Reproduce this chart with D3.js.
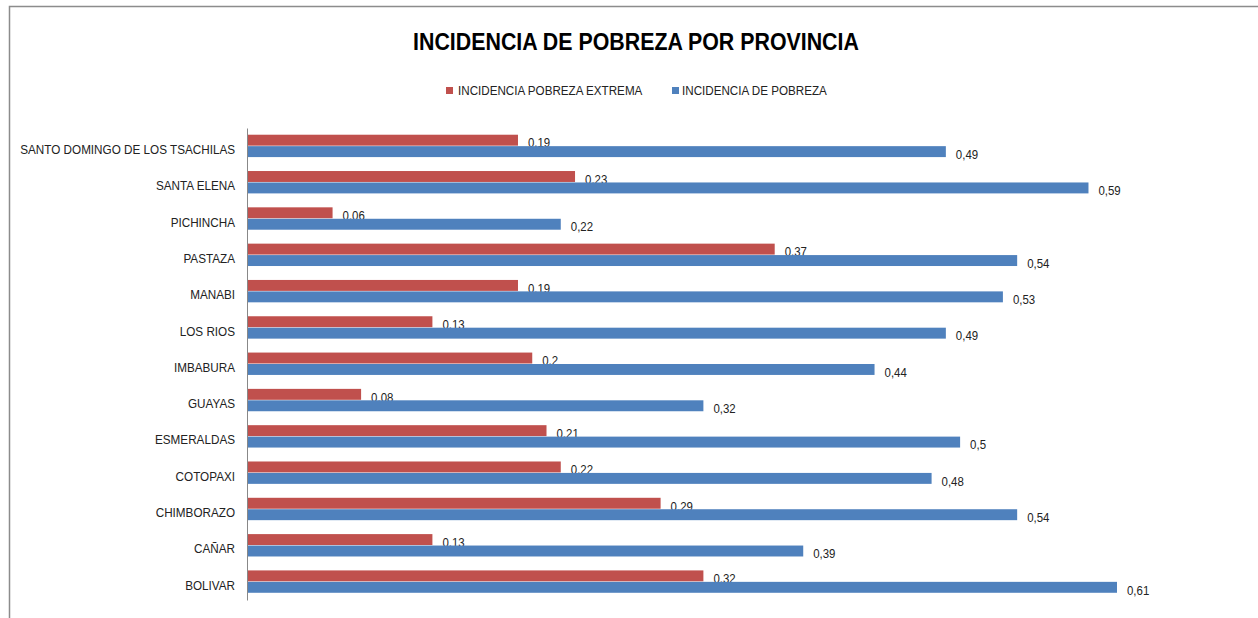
<!DOCTYPE html>
<html><head><meta charset="utf-8">
<script src="https://cdn.jsdelivr.net/npm/d3@7"></script>
<style>
html,body{margin:0;padding:0;background:#fff;}
svg{display:block;}
text{font-family:"Liberation Sans",Arial,sans-serif;}
</style></head>
<body><svg id="chart" width="1258" height="618"></svg>
<script>
const categories = ["SANTO DOMINGO DE LOS TSACHILAS","SANTA ELENA","PICHINCHA","PASTAZA","MANABI","LOS RIOS","IMBABURA","GUAYAS","ESMERALDAS","COTOPAXI","CHIMBORAZO","CAÑAR","BOLIVAR"];
const extrema = [0.19,0.23,0.06,0.37,0.19,0.13,0.2,0.08,0.21,0.22,0.29,0.13,0.32];
const pobreza = [0.49,0.59,0.22,0.54,0.53,0.49,0.44,0.32,0.5,0.48,0.54,0.39,0.61];
const seriesNames = ["INCIDENCIA POBREZA EXTREMA","INCIDENCIA DE POBREZA"];
const colors = ["#c0504d","#4f81bd"];

function narrow(sel, f){
  sel.each(function(){
    const L = this.getComputedTextLength();
    d3.select(this).attr("textLength", L*f).attr("lengthAdjust","spacingAndGlyphs");
  });
}

const svg = d3.select("#chart");
svg.append("path").attr("d","M9.5,618 L9.5,6.5 L1258,6.5").attr("fill","none").attr("stroke","#8c8c8c").attr("stroke-width",1.5);

svg.append("text").attr("x",636).attr("y",50).attr("text-anchor","middle")
  .attr("font-size",24).attr("font-weight","bold").attr("fill","#000").text("INCIDENCIA DE POBREZA POR PROVINCIA")
  .call(narrow,0.89);

const x = d3.scaleLinear().domain([0,0.61]).range([247,1117]);
const y = d3.scaleBand().domain(categories).range([128,600]).paddingInner(0.37).paddingOuter(0.185);
const sub = d3.scaleBand().domain([0,1]).range([0,y.bandwidth()]);

const leg = [{x:446,tx:458},{x:672,tx:682}];
seriesNames.forEach((n,i)=>{
  svg.append("rect").attr("x",leg[i].x).attr("y",87).attr("width",7).attr("height",7).attr("fill",colors[i]);
  svg.append("text").attr("x",leg[i].tx).attr("y",95).attr("font-size",12).attr("fill","#222").text(n).call(narrow,0.97);
});

const data = [extrema,pobreza];
data.forEach((vals,si)=>{
  const g = svg.append("g");
  g.selectAll("rect").data(categories).join("rect")
    .attr("x",x(0)).attr("y",c=>y(c)+sub(si)).attr("width",(c,i)=>x(vals[i])-x(0)).attr("height",sub.bandwidth()-0.5)
    .attr("fill",colors[si]);
  g.selectAll("text").data(categories).join("text")
    .attr("x",(c,i)=>x(vals[i])+10).attr("y",c=>y(c)+sub(si)+sub.bandwidth()/2+7)
    .attr("font-size",13).attr("fill","#222").text((c,i)=>String(vals[i]).replace(".",","))
    .call(narrow,0.88);
});

const ax = d3.axisLeft(y).tickSize(0).tickPadding(12);
const axg = svg.append("g").attr("transform","translate(247,0)").call(ax);
axg.select(".domain").attr("stroke","#888");
axg.selectAll("text").attr("font-size",13).attr("fill","#222").attr("font-family",null).attr("dy","0.6em").call(narrow,0.9);
</script></body></html>
